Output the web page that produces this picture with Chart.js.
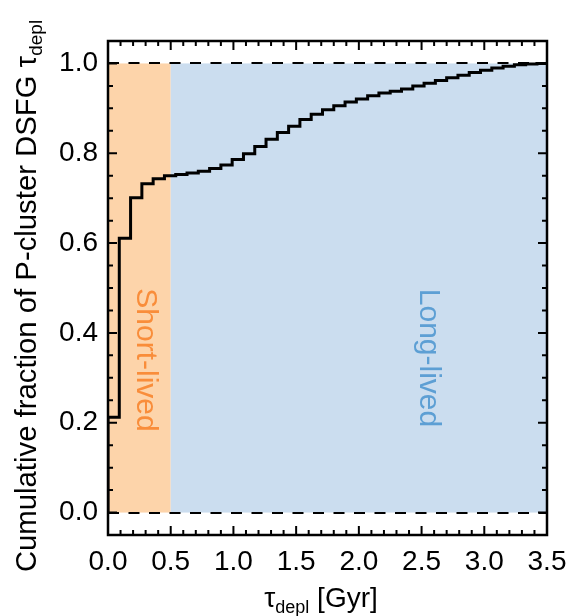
<!DOCTYPE html>
<html>
<head>
<meta charset="utf-8">
<script src="https://cdn.jsdelivr.net/npm/chart.js@4.4.0/dist/chart.umd.min.js"></script>
<style>
  html, body { margin: 0; padding: 0; background: #fff; }
  #wrap { width: 580px; height: 616px; }
</style>
</head>
<body>
<div id="wrap"><canvas id="chart" width="580" height="616"></canvas></div>
<script>
// bin edges of the cumulative histogram [Gyr]
const binEdges = [0, 0.09, 0.18, 0.27, 0.36, 0.45, 0.54, 0.63, 0.72, 0.81,
  0.90, 0.99, 1.08, 1.17, 1.26, 1.35, 1.44, 1.53, 1.62, 1.71,
  1.80, 1.89, 1.98, 2.07, 2.16, 2.25, 2.34, 2.43, 2.52, 2.61,
  2.70, 2.79, 2.88, 2.97, 3.06, 3.15, 3.24, 3.33, 3.42, 3.50];
// cumulative fraction in each bin
const cumFraction = [0.212, 0.611, 0.701, 0.732, 0.743, 0.750, 0.753, 0.756, 0.760, 0.766,
  0.774, 0.786, 0.799, 0.815, 0.831, 0.846, 0.860, 0.875, 0.887, 0.897,
  0.906, 0.914, 0.921, 0.928, 0.934, 0.938, 0.943, 0.950, 0.956, 0.962,
  0.968, 0.974, 0.980, 0.985, 0.990, 0.994, 0.997, 0.999, 1.000];

const xTicks = [0, 0.5, 1.0, 1.5, 2.0, 2.5, 3.0, 3.5];
const yTicks = [0, 0.2, 0.4, 0.6, 0.8, 1.0];
const shortLived = [0, 0.5];
const longLived = [0.5, 3.5];

const FONT = "'Liberation Sans', Arial, Helvetica, sans-serif";

// step points: start at zero, then one point per bin, closed at the last edge
const points = [{ x: binEdges[0], y: 0 }];
cumFraction.forEach((v, i) => points.push({ x: binEdges[i], y: v }));
points.push({ x: binEdges[binEdges.length - 1], y: cumFraction[cumFraction.length - 1] });

function drawRich(ctx, parts) {
  let total = 0;
  parts.forEach((p) => {
    ctx.font = p.size + "px " + FONT;
    p.w = ctx.measureText(p.t).width;
    total += p.w;
  });
  let x = -total / 2;
  parts.forEach((p) => {
    ctx.font = p.size + "px " + FONT;
    ctx.fillText(p.t, x, p.dy || 0);
    x += p.w;
  });
}

const framePlugin = {
  id: "frame",
  beforeDatasetsDraw(chart) {
    const { ctx, chartArea: a, scales: { x, y } } = chart;
    ctx.save();
    // shaded regions
    ctx.fillStyle = "#fdd4aa";
    ctx.fillRect(x.getPixelForValue(shortLived[0]), y.getPixelForValue(1),
      x.getPixelForValue(shortLived[1]) - x.getPixelForValue(shortLived[0]),
      y.getPixelForValue(0) - y.getPixelForValue(1));
    ctx.fillStyle = "#cbddef";
    ctx.fillRect(x.getPixelForValue(longLived[0]), y.getPixelForValue(1),
      x.getPixelForValue(longLived[1]) - x.getPixelForValue(longLived[0]),
      y.getPixelForValue(0) - y.getPixelForValue(1));

    // region labels
    ctx.textAlign = "left";
    ctx.textBaseline = "alphabetic";
    ctx.fillStyle = "#f98d3a";
    ctx.save();
    ctx.translate(137, 360);
    ctx.rotate(Math.PI / 2);
    drawRich(ctx, [{ t: "Short-lived", size: 30 }]);
    ctx.restore();
    ctx.fillStyle = "#5d9fd4";
    ctx.save();
    ctx.translate(420, 358);
    ctx.rotate(Math.PI / 2);
    drawRich(ctx, [{ t: "Long-lived", size: 30 }]);
    ctx.restore();

    // dashed lines at 0 and 1
    ctx.strokeStyle = "#000";
    ctx.lineWidth = 2;
    ctx.setLineDash([11, 9.5]);
    [0, 1].forEach((v) => {
      const py = Math.round(y.getPixelForValue(v));
      ctx.beginPath();
      ctx.moveTo(a.left, py);
      ctx.lineTo(a.right, py);
      ctx.stroke();
    });
    ctx.restore();
  },
  afterDatasetsDraw(chart) {
    const { ctx, chartArea: a, scales: { x, y } } = chart;
    ctx.save();
    ctx.strokeStyle = "#000";
    ctx.lineWidth = 2.5;
    ctx.setLineDash([]);
    ctx.strokeRect(a.left, a.top, a.right - a.left, a.bottom - a.top);

    // inward ticks on all four sides
    ctx.lineWidth = 2;
    ctx.beginPath();
    for (let k = 0; k <= 35; k++) {
      const px = x.getPixelForValue(k / 10);
      const len = k % 5 === 0 ? 9 : 5;
      ctx.moveTo(px, a.bottom); ctx.lineTo(px, a.bottom - len);
      ctx.moveTo(px, a.top); ctx.lineTo(px, a.top + len);
    }
    for (let k = 0; k <= 20; k++) {
      const py = y.getPixelForValue(k / 20);
      const len = k % 4 === 0 ? 9 : 5;
      ctx.moveTo(a.left, py); ctx.lineTo(a.left + len, py);
      ctx.moveTo(a.right, py); ctx.lineTo(a.right - len, py);
    }
    ctx.stroke();

    // axis titles
    ctx.fillStyle = "#000";
    ctx.textBaseline = "alphabetic";
    ctx.textAlign = "left";
    ctx.save();
    ctx.translate(321, 607);
    drawRich(ctx, [
      { t: "\u03c4", size: 28 },
      { t: "depl", size: 18, dy: 6 },
      { t: " [Gyr]", size: 28 }
    ]);
    ctx.restore();
    ctx.save();
    ctx.translate(36, 296);
    ctx.rotate(-Math.PI / 2);
    drawRich(ctx, [
      { t: "Cumulative fraction of P-cluster DSFG ", size: 29.3 },
      { t: "\u03c4", size: 29.3 },
      { t: "depl", size: 19, dy: 6 }
    ]);
    ctx.restore();
    ctx.restore();
  }
};

const ctx = document.getElementById("chart").getContext("2d");
new Chart(ctx, {
  type: "line",
  data: {
    datasets: [{
      data: points,
      stepped: "before",
      borderColor: "#000",
      borderWidth: 3,
      pointRadius: 0,
      fill: false
    }]
  },
  options: {
    responsive: false,
    animation: false,
    layout: { padding: { top: 41, right: 33, left: 0, bottom: 0 } },
    plugins: { legend: { display: false }, tooltip: { enabled: false } },
    scales: {
      x: {
        type: "linear",
        min: 0,
        max: 3.5,
        afterBuildTicks: (s) => { s.ticks = xTicks.map((v) => ({ value: v })); },
        afterFit: (s) => { s.height = 81; },
        grid: { display: false, drawTicks: false },
        border: { display: false },
        ticks: {
          padding: 10,
          color: "#000",
          font: { family: FONT, size: 28 },
          maxRotation: 0,
          callback: (v) => Number(v).toFixed(1)
        }
      },
      y: {
        type: "linear",
        min: -0.05,
        max: 1.05,
        afterBuildTicks: (s) => { s.ticks = yTicks.map((v) => ({ value: v })); },
        afterFit: (s) => { s.width = 108; },
        grid: { display: false, drawTicks: false },
        border: { display: false },
        ticks: {
          padding: 10,
          color: "#000",
          font: { family: FONT, size: 28 },
          callback: (v) => Number(v).toFixed(1)
        }
      }
    }
  },
  plugins: [framePlugin]
});
</script>
</body>
</html>
